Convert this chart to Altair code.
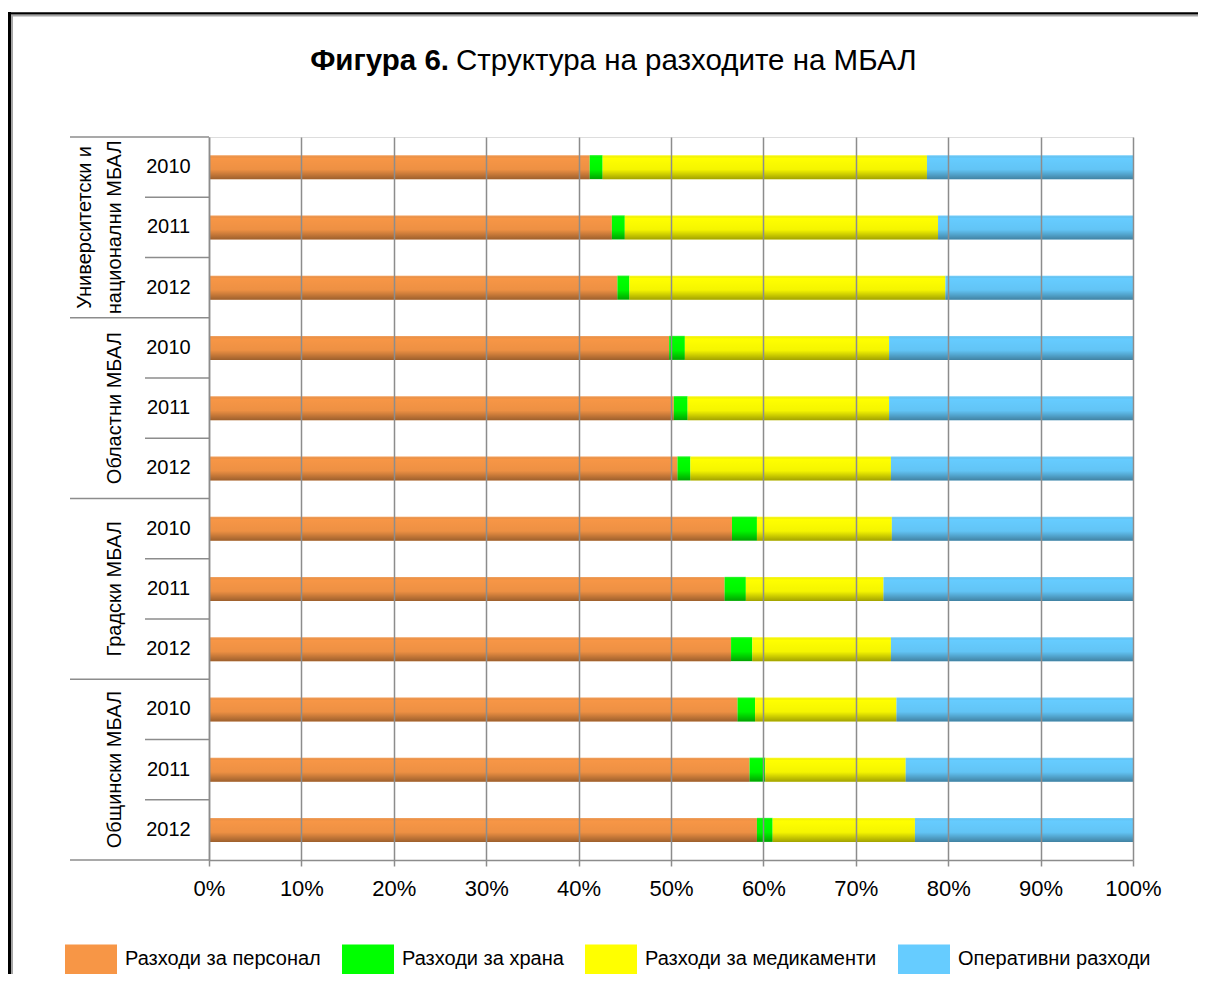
import altair as alt
import pandas as pd

groups = ["Университетски и\nнационални МБАЛ", "Областни МБАЛ", "Градски МБАЛ", "Общински МБАЛ"]
years = ["2010", "2011", "2012"]
categories = ["Разходи за персонал", "Разходи за храна", "Разходи за медикаменти", "Оперативни разходи"]
colors = ["#F79646", "#00FF00", "#FFFF00", "#66CCFF"]

personnel = [41.2, 43.6, 44.2, 49.8, 50.3, 50.7, 56.6, 55.8, 56.5, 57.2, 58.5, 59.3]
food = [1.4, 1.4, 1.3, 1.7, 1.5, 1.4, 2.7, 2.3, 2.3, 1.9, 1.7, 1.7]
medicines = [35.1, 33.9, 34.2, 22.1, 21.8, 21.7, 14.6, 14.9, 15.0, 15.3, 15.2, 15.4]
operative = [22.3, 21.1, 20.3, 26.4, 26.4, 26.2, 26.1, 27.0, 26.2, 25.6, 24.6, 23.6]

series = [personnel, food, medicines, operative]
rows = []
keys = []
for gi, g in enumerate(groups):
    for yi, y in enumerate(years):
        idx = gi * 3 + yi
        key = f"{gi}-{y}"
        keys.append(key)
        for ci, c in enumerate(categories):
            rows.append(dict(key=key, group=g, year=y, gi=gi, yi=yi, cat=c, ord=ci, val=series[ci][idx]))
df = pd.DataFrame(rows)

FONT = "Liberation Sans"
GRAY = "#8c8c8c"
yscale = alt.Scale(domain=keys, paddingInner=0, paddingOuter=0)
yaxis = alt.Axis(title=None, ticks=False, labelExpr="split(datum.value, '-')[1]",
                 labelFont=FONT, labelFontSize=20, labelColor="black", labelAlign="center",
                 labelBaseline="middle", labelPadding=41, domainColor=GRAY, domainWidth=1.5,
                 grid=False, zindex=1)


def Y(**kw):
    return alt.Y("key:N", sort=keys, scale=yscale, axis=yaxis, **kw)


base = alt.Chart(df)

bars = base.mark_bar(size=24).encode(
    x=alt.X("val:Q", stack="zero", scale=alt.Scale(domain=[0, 100], nice=False),
            axis=alt.Axis(values=list(range(0, 101, 10)), labelExpr="datum.value + '%'", title=None,
                          grid=True, gridColor=GRAY, gridWidth=1.5, domainColor=GRAY, domainWidth=1.5,
                          tickColor=GRAY, tickWidth=1.5, tickSize=6, labelFont=FONT, labelFontSize=22,
                          labelColor="black", labelPadding=12, labelFlush=False, zindex=1)),
    y=Y(),
    color=alt.Color("cat:N", scale=alt.Scale(domain=categories, range=colors),
                    legend=alt.Legend(title=None, orient="none", legendX=-144, legendY=796,
                                      direction="horizontal", columns=4,
                                      symbolType="M-1,-0.577L1,-0.577L1,0.577L-1,0.577Z",
                                      symbolSize=2704, symbolStrokeWidth=0, symbolOpacity=1,
                                      labelFont=FONT, labelFontSize=20, labelColor="black",
                                      labelOffset=8, columnPadding=21, labelLimit=400)),
    order=alt.Order("ord:Q"),
)

shade = base.mark_bar(
    size=24,
    fill=alt.Gradient(
        gradient="linear", x1=0, x2=0, y1=0, y2=1,
        stops=[
            alt.GradientStop(color="rgba(255,255,255,0.2)", offset=0),
            alt.GradientStop(color="rgba(0,0,0,0)", offset=0.12),
            alt.GradientStop(color="rgba(0,0,0,0.04)", offset=0.6),
            alt.GradientStop(color="rgba(0,0,0,0.36)", offset=1),
        ],
    ),
).encode(
    x=alt.X("val:Q", stack="zero"),
    y=Y(),
    detail="cat:N",
    order=alt.Order("ord:Q"),
)

short_sep = base.transform_filter("datum.ord == 0 && datum.yi > 0").mark_rule(
    color=GRAY, strokeWidth=1.5).encode(
    y=Y(bandPosition=0), x=alt.value(-64), x2=alt.value(0))

long_sep = base.transform_filter("datum.ord == 0 && datum.yi == 0").mark_rule(
    color=GRAY, strokeWidth=1.5).encode(
    y=Y(bandPosition=0), x=alt.value(-139), x2=alt.value(0))

bottom_sep = base.transform_filter("datum.ord == 0 && datum.yi == 2 && datum.gi == 3").mark_rule(
    color=GRAY, strokeWidth=1.5).encode(
    y=Y(bandPosition=1), x=alt.value(-139), x2=alt.value(0))

label_style = dict(angle=270, align="center", baseline="bottom", lineBreak="\n", font=FONT,
                   fontSize=20, lineHeight=30, color="black")

group_label_two = base.transform_filter("datum.ord == 0 && datum.yi == 1 && datum.gi == 0").mark_text(
    **label_style).encode(y=Y(), x=alt.value(-114), text="group:N")

group_label_one = base.transform_filter("datum.ord == 0 && datum.yi == 1 && datum.gi > 0").mark_text(
    **label_style).encode(y=Y(), x=alt.value(-84), text="group:N")

title_bold = alt.Chart(pd.DataFrame({"t": ["Фигура 6."]})).mark_text(
    align="right", baseline="alphabetic", font=FONT, fontSize=29.5, fontWeight="bold", color="black"
).encode(text="t:N", x=alt.value(240), y=alt.value(-67))

title_rest = alt.Chart(pd.DataFrame({"t": ["Структура на разходите на МБАЛ"]})).mark_text(
    align="left", baseline="alphabetic", font=FONT, fontSize=29.5, color="black"
).encode(text="t:N", x=alt.value(247), y=alt.value(-67))

frame_df = pd.DataFrame({"a": [0]})
frame_top = alt.Chart(frame_df).mark_rule(color="black", strokeWidth=2.5).encode(
    x=alt.value(-201), x2=alt.value(989), y=alt.value(-123.5))
frame_top2 = alt.Chart(frame_df).mark_rule(color="#a6a6a6", strokeWidth=2).encode(
    x=alt.value(-198), x2=alt.value(989), y=alt.value(-121.5))
frame_left = alt.Chart(frame_df).mark_rule(color="black", strokeWidth=3).encode(
    x=alt.value(-199.5), y=alt.value(-125), y2=alt.value(850))
frame_left2 = alt.Chart(frame_df).mark_rule(color="#a6a6a6", strokeWidth=2).encode(
    x=alt.value(-197), y=alt.value(-122), y2=alt.value(850))

chart = alt.layer(
    bars, shade, short_sep, long_sep, bottom_sep, group_label_two, group_label_one,
    title_bold, title_rest, frame_top, frame_top2, frame_left, frame_left2,
).resolve_scale(x="shared", y="shared").properties(
    width=924, height=723,
    padding={"left": 201, "top": 129, "right": 65, "bottom": 114},
    autosize=alt.AutoSizeParams(type="none"),
).configure_view(stroke="black", strokeWidth=1.5).configure(background="white")

chart.save("out.html", embed_options={"renderer": "svg", "actions": False})
